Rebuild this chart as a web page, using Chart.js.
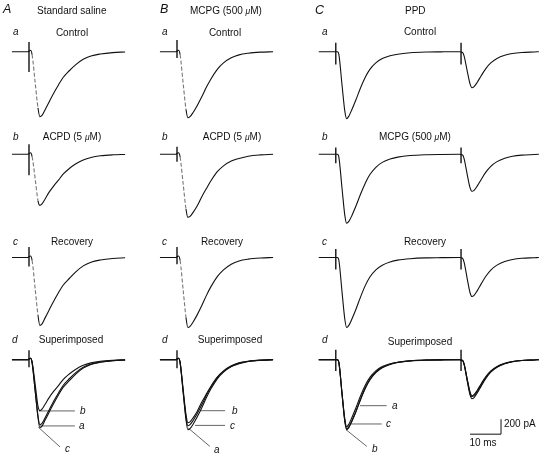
<!DOCTYPE html>
<html>
<head>
<meta charset="utf-8">
<script src="https://cdn.jsdelivr.net/npm/chart.js@4.4.1/dist/chart.umd.min.js"></script>
<style>
  html, body { margin: 0; padding: 0; background: #fff; }
  #wrap { position: relative; width: 543px; height: 456px; font-family: "Liberation Sans", Arial, sans-serif; color: #111; }
  #fig { position: absolute; left: 0; top: 0; }
  .t { position: absolute; font-size: 10px; line-height: 12px; white-space: nowrap; transform: translate(-50%, -50%); }
  .l { position: absolute; font-size: 10px; line-height: 12px; white-space: nowrap; transform: translateY(-50%); }
  .i { font-style: italic; }
  .big { font-size: 12.5px; line-height: 14px; font-style: italic; }
  .mu { font-style: italic; font-size: 8.5px; }
</style>
</head>
<body>
<div id="wrap">
  <canvas id="fig" width="543" height="456"></canvas>

  <!-- column headers -->
  <div class="l big" style="left:3px;top:9px">A</div>
  <div class="l" style="left:37px;top:11px">Standard saline</div>
  <div class="l big" style="left:160px;top:9px">B</div>
  <div class="l" style="left:190px;top:11px">MCPG (500 <span class="mu">μ</span>M)</div>
  <div class="l big" style="left:315px;top:10px">C</div>
  <div class="l" style="left:405px;top:11px">PPD</div>

  <!-- row letters -->
  <div class="l i" style="left:13px;top:32px">a</div>
  <div class="l i" style="left:162px;top:32px">a</div>
  <div class="l i" style="left:322px;top:32px">a</div>
  <div class="l i" style="left:13px;top:137px">b</div>
  <div class="l i" style="left:162px;top:137px">b</div>
  <div class="l i" style="left:322px;top:137px">b</div>
  <div class="l i" style="left:13px;top:242px">c</div>
  <div class="l i" style="left:162px;top:242px">c</div>
  <div class="l i" style="left:322px;top:242px">c</div>
  <div class="l i" style="left:12px;top:340px">d</div>
  <div class="l i" style="left:162px;top:340px">d</div>
  <div class="l i" style="left:322px;top:340px">d</div>

  <!-- condition titles -->
  <div class="t" style="left:72px;top:33px">Control</div>
  <div class="t" style="left:225px;top:33px">Control</div>
  <div class="t" style="left:420px;top:32px">Control</div>
  <div class="t" style="left:72px;top:137px">ACPD (5 <span class="mu">μ</span>M)</div>
  <div class="t" style="left:232px;top:137px">ACPD (5 <span class="mu">μ</span>M)</div>
  <div class="t" style="left:415px;top:137px">MCPG (500 <span class="mu">μ</span>M)</div>
  <div class="t" style="left:72px;top:242px">Recovery</div>
  <div class="t" style="left:222px;top:242px">Recovery</div>
  <div class="t" style="left:425px;top:242px">Recovery</div>
  <div class="t" style="left:71px;top:340px">Superimposed</div>
  <div class="t" style="left:230px;top:340px">Superimposed</div>
  <div class="t" style="left:420px;top:342px">Superimposed</div>

  <!-- callout letters -->
  <div class="l i" style="left:80px;top:411px">b</div>
  <div class="l i" style="left:79px;top:426px">a</div>
  <div class="l i" style="left:65px;top:449px">c</div>
  <div class="l i" style="left:232px;top:411px">b</div>
  <div class="l i" style="left:230px;top:426px">c</div>
  <div class="l i" style="left:214px;top:450px">a</div>
  <div class="l i" style="left:392px;top:406px">a</div>
  <div class="l i" style="left:386px;top:424px">c</div>
  <div class="l i" style="left:372px;top:449px">b</div>

  <!-- scale bar text -->
  <div class="l" style="left:504px;top:424px">200 pA</div>
  <div class="t" style="left:483px;top:443px">10 ms</div>
</div>

<script>
  /* ====================== data (ms from stimulus, pA) ====================== */
  // single pulse time base (columns A and B)
  var tSingle = [-5.5, -0.4, 0.5, 1.0, 2.0, 2.9, 3.5, 4.2, 5.2, 6.5, 8, 9.5, 11, 13, 15, 17.5, 20, 23, 27, 31];
  // paired pulse time base (column C), 2nd stimulus at 40.4 ms
  var tPaired = [-5.5, -0.4, 0.5, 1.0, 2.0, 2.9, 3.5, 4.2, 5.2, 6.5, 8, 9.5, 11, 13, 15, 17.5, 20, 24, 29, 34, 39.9,
    40.9, 41.4, 42.4, 43.3, 43.9, 44.6, 45.6, 46.9, 48.4, 50, 52, 54.5, 57, 60, 64, 65.5];
  var stimTimesC = [0, 40.4];

  // A: standard saline
  var salineControl = [0, 0, 20, -40, -417, -750, -867, -850, -775, -670, -551, -444, -344, -254, -175, -101, -57, -31, -12, -3];
  var salineACPD = [0, 0, 20, -30, -330, -620, -680, -660, -595, -505, -420, -345, -265, -190, -130, -75, -42, -20, -7, -2];
  var salineRecovery = [0, 0, 20, -40, -420, -770, -905, -885, -805, -700, -580, -470, -370, -280, -195, -112, -63, -34, -13, -3];

  // B: MCPG (500 uM)
  var mcpgControl = [0, 0, 20, -40, -430, -770, -880, -865, -810, -720, -600, -472, -360, -235, -150, -82, -42, -20, -6, 0];
  var mcpgACPD = [0, 0, 20, -35, -400, -730, -840, -828, -775, -690, -565, -455, -350, -232, -155, -90, -55, -25, -8, 0];
  var mcpgRecovery = [0, 0, 20, -40, -440, -800, -933, -918, -860, -765, -640, -505, -385, -255, -165, -90, -46, -22, -7, 0];

  // C: PPD, paired pulses
  var ppdControl = [0, 0, 0, -40, -440, -790, -893, -860, -770, -640, -480, -340, -235, -145, -92, -55, -33, -15, -5, -2, 0,
    -10, -60, -260, -430, -480, -465, -410, -320, -225, -150, -90, -48, -24, -10, -3, 0];
  var ppdMCPG = [0, 0, 0, -40, -450, -810, -920, -895, -815, -690, -530, -385, -270, -170, -108, -64, -38, -17, -6, -2, 0,
    -10, -60, -270, -445, -493, -480, -425, -335, -238, -160, -98, -52, -26, -11, -3, 0];
  var ppdRecovery = [0, 0, 0, -40, -455, -820, -933, -905, -820, -690, -525, -375, -260, -162, -102, -60, -35, -16, -5, -2, 0,
    -10, -65, -285, -470, -520, -505, -445, -352, -250, -167, -102, -54, -27, -11, -3, 0];

  // stimulus artefacts, rows a..d (pA above / below baseline)
  var artUpA = [130, 135, 140, 127], artDownA = [-270, -280, -120, -100];
  var artUpB = [155, 100, 140, 127], artDownB = [-85, -100, -90, -113];
  var artUpC = [120, 90, 115, 133], artDownC = [-170, -120, -160, -150];

  // callout lines in the superimposed panels [start, end]
  var calloutMsA = [[3.2, 14.8], [3.5, 14.8], [3.0, 10.0]];
  var calloutPaA = [[-683, -683], [-883, -883], [-900, -1163]];
  var calloutMsB = [[7.4, 15.5], [5.8, 15.5], [3.6, 10.6]];
  var calloutPaB = [[-680, -680], [-876, -876], [-911, -1156]];
  var calloutMsC = [[7.8, 16.4], [4.6, 14.8], [3.3, 10.0]];
  var calloutPaC = [[-613, -613], [-857, -857], [-933, -1156]];

  // scale bar: 10 ms, 200 pA
  var scaleBarMs = [43.3, 53.3, 53.3];
  var scaleBarPa = [-993, -993, -793];

  /* ====================== layout of panels ====================== */
  var PX_PER_MS = 3.1, PX_PER_PA = 0.075;
  var W = 543, H = 456;
  var stimX = { xA: 29, xB: 177, xC: 335.8 };
  var baseY = { y0: 51.7, y1: 154.3, y2: 257.5, y3: 359.7 };

  var scales = {};
  Object.keys(stimX).forEach(function (id) {
    scales[id] = { type: "linear", axis: "x", display: false, bounds: "data",
      min: -stimX[id] / PX_PER_MS, max: (W - stimX[id]) / PX_PER_MS };
  });
  Object.keys(baseY).forEach(function (id) {
    scales[id] = { type: "linear", axis: "y", display: false, bounds: "data",
      min: -(H - baseY[id]) / PX_PER_PA, max: baseY[id] / PX_PER_PA };
  });

  function pts(xs, ys) {
    return xs.map(function (v, i) { return { x: v, y: ys[i] }; });
  }

  // steep falling phase looks dashed/grey in the single traces of A and B
  function steep(ctx) {
    var dx = ctx.p1.parsed.x - ctx.p0.parsed.x;
    var dy = ctx.p1.parsed.y - ctx.p0.parsed.y;
    return dx > 0 && dy / dx < -250;
  }

  function trace(t, pa, xId, yId, dashed) {
    var ds = {
      data: pts(t, pa), xAxisID: xId, yAxisID: yId,
      borderColor: "#111", borderWidth: 1.1,
      cubicInterpolationMode: "monotone", fill: false,
    };
    if (dashed) {
      ds.segment = {
        borderDash: function (ctx) { return steep(ctx) ? [4, 2] : undefined; },
        borderColor: function (ctx) { return steep(ctx) ? "#777" : undefined; },
      };
    }
    return ds;
  }

  function straight(xs, ys, xId, yId, color, width) {
    return { data: pts(xs, ys), xAxisID: xId, yAxisID: yId,
      borderColor: color, borderWidth: width, tension: 0, fill: false };
  }

  var datasets = [];
  var rows = ["y0", "y1", "y2", "y3"];

  // column A and B single rows
  [[salineControl, salineACPD, salineRecovery], [mcpgControl, mcpgACPD, mcpgRecovery]].forEach(function (set, c) {
    var xId = c === 0 ? "xA" : "xB";
    set.forEach(function (vals, r) {
      datasets.push(trace(tSingle, vals, xId, rows[r], true));
    });
    set.forEach(function (vals) {
      datasets.push(trace(tSingle, vals, xId, "y3", false));
    });
  });
  // column C
  [ppdControl, ppdMCPG, ppdRecovery].forEach(function (vals, r) {
    datasets.push(trace(tPaired, vals, "xC", rows[r], false));
    datasets.push(trace(tPaired, vals, "xC", "y3", false));
  });

  // stimulus artefacts
  rows.forEach(function (yId, r) {
    datasets.push(straight([0, 0], [artUpA[r], artDownA[r]], "xA", yId, "#000", 1.3));
    datasets.push(straight([0, 0], [artUpB[r], artDownB[r]], "xB", yId, "#000", 1.3));
    stimTimesC.forEach(function (s) {
      datasets.push(straight([s, s], [artUpC[r], artDownC[r]], "xC", yId, "#000", 1.3));
    });
  });

  // callouts
  [[calloutMsA, calloutPaA, "xA"], [calloutMsB, calloutPaB, "xB"], [calloutMsC, calloutPaC, "xC"]].forEach(function (c) {
    c[0].forEach(function (ms, k) {
      datasets.push(straight(ms, c[1][k], c[2], "y3", "#555", 0.9));
    });
  });

  // scale bar
  datasets.push(straight(scaleBarMs, scaleBarPa, "xC", "y3", "#111", 1));

  new Chart(document.getElementById("fig").getContext("2d"), {
    type: "line",
    data: { datasets: datasets },
    options: {
      responsive: false,
      animation: false,
      events: [],
      layout: { padding: 0 },
      elements: { point: { radius: 0 } },
      plugins: { legend: { display: false }, tooltip: { enabled: false }, title: { display: false } },
      scales: scales,
    },
  });
</script>
</body>
</html>
